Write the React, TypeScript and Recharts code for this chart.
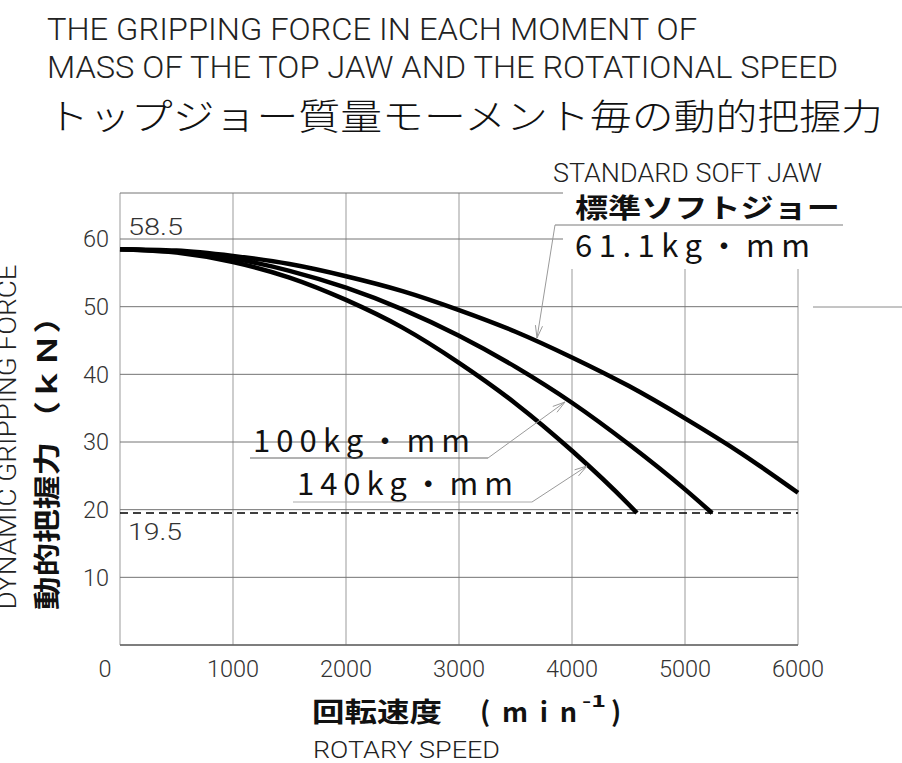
import { CartesianGrid, Line, LineChart, ReferenceLine, XAxis, YAxis } from 'recharts'

// rotary speed (min^-1) and dynamic gripping force (kN)
const SPEED_61 = [0, 500, 1000, 1500, 2000, 2500, 3000, 3500, 4000, 4500, 5000, 5500, 6000]
const FORCE_61 = [58.5, 58.3, 57.5, 56.3, 54.5, 52.3, 49.5, 46.3, 42.5, 38.3, 33.5, 28.3, 22.5]
const SPEED_100 = [0, 500, 1000, 1500, 2000, 2500, 3000, 3500, 4000, 4500, 5000, 5240]
const FORCE_100 = [58.5, 58.1, 57.1, 55.3, 52.8, 49.6, 45.7, 41.1, 35.8, 29.7, 23.0, 19.5]
const SPEED_140 = [0, 500, 1000, 1500, 2000, 2500, 3000, 3500, 4000, 4500, 4575]
const FORCE_140 = [58.5, 58.0, 56.6, 54.3, 51.0, 46.9, 41.7, 35.7, 28.7, 20.8, 19.5]

const X_TICKS = [0, 1000, 2000, 3000, 4000, 5000, 6000]
const Y_TICKS = [10, 20, 30, 40, 50, 60]
const MIN_FORCE = 19.5
const START_FORCE = 58.5

const THIN = 'Roboto, "DejaVu Sans", sans-serif'
const CJK = '"Noto Sans CJK JP", sans-serif'
const LEADER = '#9a9a9a'

const toRows = (xs: number[], ys: number[]) => xs.map((x, i) => ({ rpm: x, force: ys[i] }))

function XTick(props: any) {
  const { x, y, payload } = props
  const shift = payload.value === 0 ? -15 : 0
  return (
    <text x={x + shift} y={y} dy="0.71em" textAnchor="middle" fontFamily={THIN} fontWeight={300} fontSize={23.5} fill="#333">
      {payload.value}
    </text>
  )
}

function YTick(props: any) {
  const { x, y, payload } = props
  return (
    <text x={x} y={y} dy="0.355em" textAnchor="end" fontFamily={THIN} fontWeight={300} fontSize={23.5} fill="#333">
      {payload.value}
    </text>
  )
}

function Arrow({ x1, y1, x2, y2 }: { x1: number; y1: number; x2: number; y2: number }) {
  const a = Math.atan2(y2 - y1, x2 - x1)
  const len = 13
  const spread = 0.28
  const p1 = [x2 - len * Math.cos(a - spread), y2 - len * Math.sin(a - spread)]
  const p2 = [x2 - len * Math.cos(a + spread), y2 - len * Math.sin(a + spread)]
  return (
    <g stroke={LEADER} strokeWidth={1} fill="none">
      <line x1={x1} y1={y1} x2={x2} y2={y2} />
      <polyline points={`${p1[0]},${p1[1]} ${x2},${y2} ${p2[0]},${p2[1]}`} />
    </g>
  )
}

export default function App() {
  return (
    <div style={{ position: 'absolute', left: 0, top: 0, width: 902, height: 763, background: '#fff' }}>
      <LineChart width={902} height={763} margin={{ top: 193, right: 104, bottom: 88, left: 60 }}>
        <CartesianGrid horizontal={false} stroke="#bdbdbd" strokeWidth={1.5} />
        <CartesianGrid vertical={false} stroke="#747474" strokeWidth={1} />
        <XAxis
          type="number"
          dataKey="rpm"
          domain={[0, 6000]}
          ticks={X_TICKS}
          height={30}
          tickSize={0}
          tickMargin={15}
          stroke="#6a6a6a"
          strokeWidth={1.5}
          tick={<XTick />}
        />
        <YAxis
          type="number"
          dataKey="force"
          domain={[0, 66.8]}
          ticks={Y_TICKS}
          width={60}
          tickSize={0}
          tickMargin={11}
          axisLine={false}
          tick={<YTick />}
        />
        <ReferenceLine y={MIN_FORCE} stroke="#000" strokeWidth={1.5} strokeDasharray="8 5" />
        <Line data={toRows(SPEED_61, FORCE_61)} dataKey="force" type="monotone" stroke="#000" strokeWidth={4.5} dot={false} isAnimationActive={false} />
        <Line data={toRows(SPEED_100, FORCE_100)} dataKey="force" type="monotone" stroke="#000" strokeWidth={4.5} dot={false} isAnimationActive={false} />
        <Line data={toRows(SPEED_140, FORCE_140)} dataKey="force" type="monotone" stroke="#000" strokeWidth={4.5} dot={false} isAnimationActive={false} />
      </LineChart>

      <svg width={902} height={763} style={{ position: 'absolute', left: 0, top: 0, pointerEvents: 'none' }}>
        {/* titles */}
        <text x={47} y={40} fontFamily={THIN} fontWeight={300} fontSize={31} fill="#222" textLength={650} lengthAdjust="spacingAndGlyphs">
          THE GRIPPING FORCE IN EACH MOMENT OF
        </text>
        <text x={47} y={78} fontFamily={THIN} fontWeight={300} fontSize={31} fill="#222" textLength={791} lengthAdjust="spacingAndGlyphs">
          MASS OF THE TOP JAW AND THE ROTATIONAL SPEED
        </text>
        <text x={47} y={130} fontFamily={CJK} fontWeight={300} fontSize={36} fill="#111" textLength={836} lengthAdjust="spacingAndGlyphs">
          トップジョー質量モーメント毎の動的把握力
        </text>

        {/* y axis titles */}
        <text transform="translate(16,437) rotate(-90)" textAnchor="middle" fontFamily={THIN} fontWeight={300} fontSize={25} fill="#222" textLength={345} lengthAdjust="spacingAndGlyphs">
          DYNAMIC GRIPPING FORCE
        </text>
        <text transform="translate(57,455) rotate(-90)" textAnchor="middle" fontFamily={CJK} fontWeight={700} fontSize={27} fill="#111" textLength={310} lengthAdjust="spacingAndGlyphs">
          動的把握力 （ｋＮ）
        </text>

        {/* x axis titles */}
        <text x={312} y={722} fontFamily={CJK} fontWeight={700} fontSize={27} fill="#111" textLength={130} lengthAdjust="spacingAndGlyphs">
          回転速度
        </text>
        <text x={480} y={722} fontFamily={CJK} fontWeight={700} fontSize={27} fill="#111" textLength={97} lengthAdjust="spacing">
          (min
        </text>
        <text x={582} y={707} fontFamily={CJK} fontWeight={700} fontSize={16} fill="#111" textLength={24} lengthAdjust="spacingAndGlyphs">
          -1
        </text>
        <text x={611} y={722} fontFamily={CJK} fontWeight={700} fontSize={27} fill="#111">
          )
        </text>
        <text x={313} y={758} fontFamily={THIN} fontWeight={300} fontSize={24} fill="#222" textLength={187} lengthAdjust="spacingAndGlyphs">
          ROTARY SPEED
        </text>

        {/* value labels */}
        <text x={128} y={235} fontFamily={THIN} fontWeight={300} fontSize={24} fill="#333" textLength={55} lengthAdjust="spacingAndGlyphs">
          {START_FORCE}
        </text>
        <text x={128} y={540} fontFamily={THIN} fontWeight={300} fontSize={24} fill="#333" textLength={54} lengthAdjust="spacingAndGlyphs">
          {MIN_FORCE}
        </text>

        {/* standard soft jaw label */}
        <rect x={563} y={150} width={339} height={119} fill="#fff" />
        <line x1={813} y1={307} x2={902} y2={307} stroke="#8a8a8a" strokeWidth={1} />
        <text x={553} y={182} fontFamily={THIN} fontWeight={300} fontSize={25} fill="#222" textLength={269} lengthAdjust="spacingAndGlyphs">
          STANDARD SOFT JAW
        </text>
        <text x={575} y={218} fontFamily={CJK} fontWeight={700} fontSize={27} fill="#111" textLength={265} lengthAdjust="spacingAndGlyphs">
          標準ソフトジョー
        </text>
        <line x1={555} y1={225} x2={843} y2={225} stroke="#7a7a7a" strokeWidth={1} />
        <text x={575} y={257} fontFamily={CJK} fontWeight={400} fontSize={31} fill="#111" textLength={235} lengthAdjust="spacing">
          61.1kg・mm
        </text>
        <Arrow x1={555} y1={225} x2={537} y2={338} />

        {/* 100 / 140 labels */}
        <text x={253} y={452} fontFamily={CJK} fontWeight={400} fontSize={31} fill="#111" textLength={217} lengthAdjust="spacing">
          100kg・mm
        </text>
        <line x1={250} y1={458} x2={488} y2={458} stroke="#666" strokeWidth={1} />
        <Arrow x1={488} y1={458} x2={565} y2={402} />
        <text x={297} y={495} fontFamily={CJK} fontWeight={400} fontSize={31} fill="#111" textLength={216} lengthAdjust="spacing">
          140kg・mm
        </text>
        <line x1={293} y1={502} x2={532} y2={502} stroke="#aaa" strokeWidth={1} />
        <Arrow x1={532} y1={502} x2={587} y2={466} />
      </svg>
    </div>
  )
}
